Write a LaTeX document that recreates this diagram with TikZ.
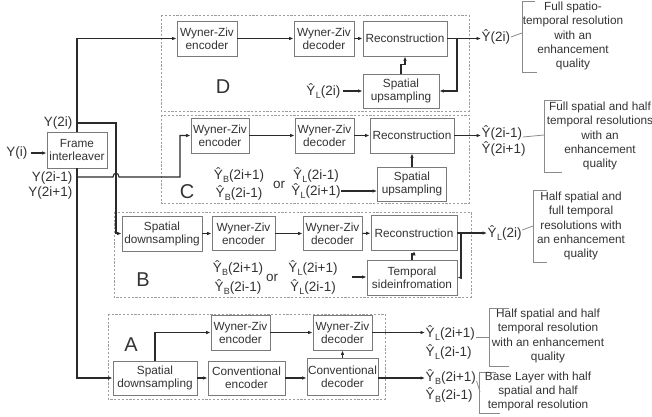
\documentclass[tikz,border=0pt]{standalone}
\usepackage{fontspec}
\setmainfont{Liberation Sans}
\usetikzlibrary{arrows.meta}
\definecolor{boxc}{HTML}{7A7A7A}
\definecolor{linec}{HTML}{2A2A2A}
\definecolor{txtc}{HTML}{333333}
\definecolor{dashc}{HTML}{9E9E9E}
\definecolor{brkc}{HTML}{8A8A8A}
\newcommand{\YhL}{Ŷ\kern0.3pt\raisebox{-0.35ex}{\fontsize{9}{9}\selectfont L}}
\newcommand{\YhB}{Ŷ\kern0.3pt\raisebox{-0.35ex}{\fontsize{9}{9}\selectfont B}}
\begin{document}
\begin{tikzpicture}[x=1pt,y=-1pt,
  blk/.style={draw=boxc,line width=0.9pt,fill=white,align=center,inner sep=0.3pt,text=txtc,font=\fontsize{11.8}{13}\selectfont},
  arr/.style={draw=linec,line width=1.1pt,-{Latex[length=4.5pt,width=3.6pt]}},
  ln/.style={draw=linec,line width=1.1pt},
  dbox/.style={draw=dashc,line width=0.7pt,dash pattern=on 2.2pt off 1.6pt},
  brk/.style={draw=brkc,line width=0.8pt},
  lbl/.style={text=txtc,inner sep=0.5pt,font=\fontsize{13.5}{15}\selectfont},
  note/.style={text=txtc,inner sep=0pt,align=center,font=\fontsize{11.8}{14.3}\selectfont},
  big/.style={text=txtc,inner sep=0pt,font=\fontsize{20}{22}\selectfont}]
\useasboundingbox (0,0) rectangle (652,416);

% dashed panels
\draw[dbox] (161,15) rectangle (469,111);
\draw[dbox] (161,115) rectangle (469,203);
\draw[dbox] (114,212) rectangle (471,297);
\draw[dbox] (108,314) rectangle (385,399);

% frame interleaver
\node[blk,minimum width=60,minimum height=36] (fi) at (77,150) {Frame\\interleaver};
\node[lbl,anchor=east] (yi) at (28,153) {Y(i)};
\node[lbl,anchor=east] (y2i) at (73,123) {Y(2i)};
\node[lbl,anchor=east] (y2im) at (73,178) {Y(2i-1)};
\node[lbl,anchor=east] (y2ip) at (73,193) {Y(2i+1)};
\draw[arr] ([xshift=3pt]yi.east) -- (fi.west |- yi.east);

% D panel
\node[blk,minimum width=60,minimum height=35] (dwze) at (207,38.5) {Wyner-Ziv\\encoder};
\node[blk,minimum width=60,minimum height=35] (dwzd) at (324,38.5) {Wyner-Ziv\\decoder};
\node[blk,minimum width=84,minimum height=35] (drec) at (405,38.5) {Reconstruction};
\node[blk,minimum width=76,minimum height=34] (dup) at (401,91) {Spatial\\upsampling};
\node[lbl,anchor=east] (dyl) at (341,91) {\YhL(2i)};
\node[big] (dlet) at (223,87) {D};
\node[lbl,anchor=west] (dout) at (481,37) {Ŷ(2i)};
\coordinate (dbr) at (457,38.5);
\draw[arr] (dwze) -- (dwzd);
\draw[arr] (dwzd) -- (drec);
\draw[arr] (drec.east) -- (dout.west |- drec.east);
\draw[arr] (dbr) |- (dup.east);
\draw[arr] ([xshift=2pt]dyl.east) -- (dup.west);
\draw[arr] (dup.north) -- ++(0,-9) -| (drec.south);
\coordinate (dbt) at (522,33);
\draw[brk] (535,1) -- (522,1) -- (522,72) -- (537,72);
\draw[brk] (dout.east) -- (dbt);
\node[note] (dnote) at (573,36) {Full spatio-\\temporal resolution\\with an\\enhancement\\quality};

% C panel
\node[blk,minimum width=58,minimum height=35] (cwze) at (220,135.5) {Wyner-Ziv\\encoder};
\node[blk,minimum width=59,minimum height=35] (cwzd) at (324.5,135.5) {Wyner-Ziv\\decoder};
\node[blk,minimum width=84,minimum height=35] (crec) at (412,135.5) {Reconstruction};
\node[blk,minimum width=69,minimum height=34] (cup) at (412,184) {Spatial\\upsampling};
\node[lbl] (cb1) at (239,175) {\YhB(2i+1)};
\node[lbl] (cb2) at (239,193) {\YhB(2i-1)};
\node[lbl] (cor) at (279,185) {or};
\node[lbl] (cl1) at (316,175) {\YhL(2i-1)};
\node[lbl] (cl2) at (316,191) {\YhL(2i+1)};
\node[big] (clet) at (187,192) {C};
\node[lbl,anchor=west] (cout1) at (481,133) {Ŷ(2i-1)};
\node[lbl,anchor=west] (cout2) at (481,149) {Ŷ(2i+1)};
\draw[arr] (cwze) -- (cwzd);
\draw[arr] (cwzd) -- (crec);
\draw[arr] (crec.east) -- (cout1.west |- crec.east);
\draw[arr] (cl2.east) -- (cl2.east -| cup.west);
\draw[arr] (cup) -- (crec);
\coordinate (cbt) at (544,135);
\draw[brk] (562,100) -- (544,100) -- (544,172) -- (562,172);
\draw[brk] ([yshift=-4pt]cout1.east) -- (cbt);
\node[note] (cnote) at (600,136) {Full spatial and half\\temporal resolutions\\with an\\enhancement\\quality};

% B panel
\node[blk,minimum width=80,minimum height=35] (bsd) at (162,233.5) {Spatial\\downsampling};
\node[blk,minimum width=63,minimum height=34] (bwze) at (243.5,233.5) {Wyner-Ziv\\encoder};
\node[blk,minimum width=59,minimum height=34] (bwzd) at (332.5,233.5) {Wyner-Ziv\\decoder};
\node[blk,minimum width=86,minimum height=35] (brec) at (414,233) {Reconstruction};
\node[blk,minimum width=90,minimum height=35] (btmp) at (412,277.5) {Temporal\\sideinfromation};
\node[lbl] (bb1) at (238,268) {\YhB(2i+1)};
\node[lbl] (bb2) at (238,287) {\YhB(2i-1)};
\node[lbl] (bor) at (272,278) {or};
\node[lbl] (bl1) at (313,268) {\YhL(2i+1)};
\node[lbl] (bl2) at (313,287) {\YhL(2i-1)};
\node[big] (blet) at (143,280) {B};
\node[lbl,anchor=west] (bout) at (487,233) {\YhL(2i)};
\coordinate (bin) at (352,277);
\coordinate (bbr) at (461,233);
\draw[arr] (bsd) -- (bwze);
\draw[arr] (bwze) -- (bwzd);
\draw[arr] (bwzd) -- (brec);
\draw[arr] (brec.east) -- (bout.west |- brec.east);
\draw[arr] (bbr) |- (btmp.east);
\draw[arr] (bin) -- (bin -| btmp.west);
\draw[arr] (btmp.north) -- ++(0,-6) -| (brec.south);
\coordinate (bbt) at (533,226);
\draw[brk] (547,190) -- (533,190) -- (533,262) -- (547,262);
\draw[brk] ([yshift=3pt]bout.east) -- (bbt);
\node[note] (bnote) at (581,226) {Half spatial and\\full temporal\\resolutions with\\an enhancement\\quality};

% A panel
\node[blk,minimum width=84,minimum height=34] (asd) at (155,378) {Spatial\\downsampling};
\node[blk,minimum width=77,minimum height=34] (acenc) at (246.5,378) {Conventional\\encoder};
\node[blk,minimum width=71,minimum height=37] (acdec) at (342.5,376.5) {Conventional\\decoder};
\node[blk,minimum width=59,minimum height=35] (awze) at (240.5,332.5) {Wyner-Ziv\\encoder};
\node[blk,minimum width=59,minimum height=35] (awzd) at (342.5,332.5) {Wyner-Ziv\\decoder};
\node[big] (alet) at (131,345) {A};
\node[lbl,anchor=west] (al1) at (425,333) {\YhL(2i+1)};
\node[lbl,anchor=west] (al2) at (425,352) {\YhL(2i-1)};
\node[lbl,anchor=west] (ab1) at (425,377) {\YhB(2i+1)};
\node[lbl,anchor=west] (ab2) at (425,395) {\YhB(2i-1)};
\draw[arr] (asd.north) |- (awze.west);
\draw[arr] (awze) -- (awzd);
\draw[arr] (asd) -- (acenc);
\draw[arr] (acenc.east) -- (acenc.east -| acdec.west);
\draw[arr] (acdec) -- (awzd);
\draw[arr] (awzd.east) -- (al1.west |- awzd.east);
\draw[arr] (acdec.east |- acenc.east) -- (ab1.west |- acenc.east);
\coordinate (a1t) at (489,337);
\draw[brk] (509,308) -- (489,308) -- (489,366) -- (509,366);
\draw[brk] ([yshift=-4pt]al1.east) -- (a1t);
\node[note] (a1note) at (548,336) {Half spatial and half\\temporal resolution\\with an enhancement\\quality};
\coordinate (a2t) at (480,392);
\draw[brk] (496,372) -- (479,372) -- (479,413) -- (500,413);
\draw[brk] ([yshift=-4pt]ab1.east) -- (a2t);
\node[note,font=\fontsize{11.8}{14}\selectfont] (a2note) at (538,391) {Base Layer with half\\spatial and half\\temporal resolution};

% trunk connections from the frame interleaver
\draw[arr] (fi.north) |- (dwze.west);
\coordinate (tb) at (77,123);
\draw[arr] (tb) -- (116,123) |- (bsd.west);
\draw[arr] (fi.south) -- (77,177) -- (113,177) .. controls (113,172) and (119,172) .. (119,177) -- (180,177) |- (cwze.west);
\draw[arr] (fi.south) |- (asd.west);
\end{tikzpicture}
\end{document}
